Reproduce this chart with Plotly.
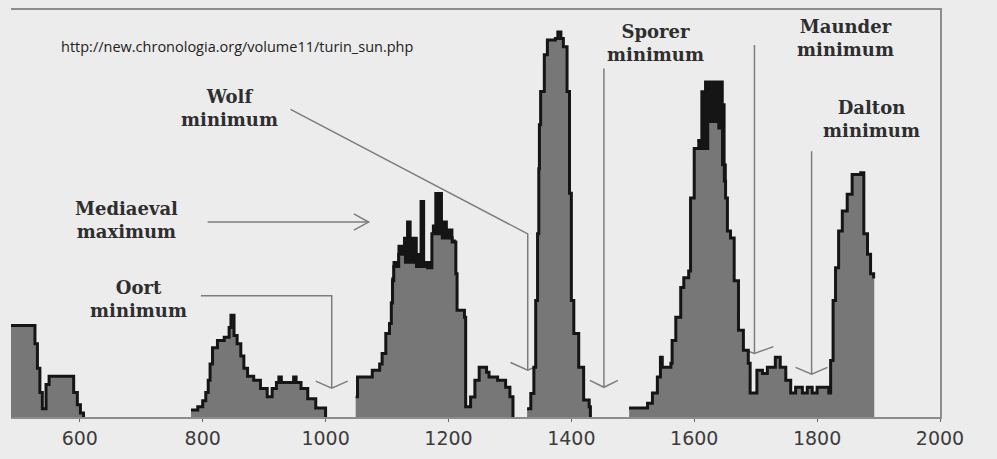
import plotly.graph_objects as go

# === DATOS (actividad solar reconstruida, unidades relativas) ===
# cada episodio de actividad por separado (entre ellos la actividad es cero)
years_500 = [488, 527, 531, 535, 539, 545, 550, 590, 596, 601, 606]
act_500 = [22.5, 18, 12, 6, 2, 8, 10, 6, 3, 1, 0]

years_800 = [781, 792, 800, 805, 809, 812, 816, 824, 835, 843, 846, 851, 856, 862, 867, 873,
             883, 894, 905, 913, 920, 924, 928, 944, 948, 952, 960, 971, 984, 1000]
act_800 = [1.7, 2.5, 4, 6, 9, 13, 17, 18.8, 19.6, 22, 25, 20, 18, 15, 12, 10,
           9, 7, 5, 7, 8.5, 9.8, 8.5, 8.5, 9.8, 8.5, 7, 4.5, 2.2, 0]

years_1100 = [1049, 1052, 1076, 1088, 1092, 1098, 1104, 1107, 1109, 1111, 1119, 1130, 1148,
              1166, 1173, 1190, 1206, 1212, 1214, 1226, 1228, 1236, 1243, 1250, 1262, 1266,
              1280, 1293, 1300, 1305]
act_1100 = [5, 9.8, 11.5, 13, 15.6, 20.5, 23, 28, 33.5, 37, 40, 38, 37,
            36.7, 45, 44, 43, 35.2, 26.2, 24.5, 2.5, 4.9, 9, 12.2, 11, 9.8,
            9, 7.3, 5, 0]

years_1350 = [1328, 1334, 1339, 1342, 1345, 1347, 1348, 1350, 1356, 1361, 1374, 1378, 1383,
              1387, 1393, 1397, 1400, 1404, 1412, 1420, 1429, 1431]
act_1350 = [2, 5.8, 12.2, 28.6, 45, 61, 71.8, 80, 89, 92.6, 93, 94.6, 93,
            91, 80, 55, 28.6, 20.5, 12.2, 4.2, 2.5, 0]

years_1600 = [1494, 1524, 1532, 1540, 1545, 1548, 1562, 1564, 1570, 1578, 1583, 1591, 1594,
              1600, 1622, 1640, 1646, 1649, 1651, 1654, 1659, 1665, 1672, 1680, 1688, 1691,
              1702, 1711, 1719, 1732, 1740, 1749, 1757, 1765, 1776, 1784, 1792, 1800, 1819,
              1822, 1826, 1830, 1835, 1841, 1849, 1857, 1871, 1876, 1882, 1887, 1892, 1893]
act_1600 = [2.2, 3.4, 5.9, 9.8, 14.7, 12.2, 13.2, 18.8, 24.5, 31.8, 34.2, 35.9, 53.8,
            66, 72.6, 71, 62, 58, 53.8, 45.7, 44, 33.5, 21.3, 16.4, 13.2, 5.9,
            11.5, 10.7, 12.2, 14.7, 12.2, 9, 5.9, 7.3, 5.9, 7.3, 5.9, 7.3, 5.9,
            13.9, 28.6, 36.7, 45.7, 50.6, 54.7, 59.6, 60, 45, 40, 35.2, 34, 0]

# envolvente superior (picos negros por encima del relleno gris)
upper_years_1150 = [1105, 1107, 1109, 1111, 1119, 1128, 1133, 1138, 1148, 1155, 1160, 1170,
                    1175, 1179, 1189, 1197, 1206, 1210]
upper_act_1150 = [23, 28, 34, 38, 42, 44, 48, 44, 40, 53, 38, 37,
                  47, 55, 48, 46, 43.3, 0]
upper_years_1620 = [1605, 1612, 1618, 1640, 1646, 1649, 1651]
upper_act_1620 = [68, 80, 82.4, 82.4, 76.8, 62, 0]

tick_years = [600, 800, 1000, 1200, 1400, 1600, 1800, 2000]
source_url = "http://new.chronologia.org/volume11/turin_sun.php"
minima_labels = ["Wolf<br>minimum", "Mediaeval<br>maximum", "Oort<br>minimum",
                 "Sporer<br>minimum", "Maunder<br>minimum", "Dalton<br>minimum"]

BG = '#ececec'
FILL = '#777777'
INK = '#151515'
ARROW = '#7d7d7d'

episodes = [(years_500, act_500), (years_800, act_800), (years_1100, act_1100),
            (years_1350, act_1350), (years_1600, act_1600)]
uppers = [(upper_years_1150, upper_act_1150), (upper_years_1620, upper_act_1620)]

fig = go.Figure()

# picos negros debajo del relleno gris
for xs, ys in uppers:
    fig.add_trace(go.Scatter(
        x=xs, y=ys, mode='lines', line_shape='hv',
        line=dict(color=INK, width=2.5), fill='tozeroy', fillcolor=INK,
        hoverinfo='skip', showlegend=False))

for i, (xs, ys) in enumerate(episodes):
    fig.add_trace(go.Scatter(
        x=xs, y=ys, mode='lines', line_shape='hv',
        line=dict(width=0, color=FILL), fill='tozeroy', fillcolor=FILL,
        hoverinfo='skip', showlegend=False))
    # el ultimo episodio termina sin trazo negro en el borde derecho
    if i == len(episodes) - 1:
        xs, ys = xs[:-1], ys[:-1]
    fig.add_trace(go.Scatter(
        x=xs, y=ys, mode='lines', line_shape='hv',
        line=dict(color=INK, width=3), hoverinfo='skip', showlegend=False))

# === FLECHAS (lineas grises con punta abierta) ===
arrow_paths = [
    "M943,75.6 L1329,45 L1329,11.5",          # Wolf
    "M1301,13.4 L1329,11.5 L1357,13.4",
    "M1453,85.6 L1453,7.3",                   # Sporer
    "M1430,9.0 L1453,7.3 L1476,9.0",
    "M1698,91.4 L1698,15.6",                  # Maunder
    "M1667,17.3 L1698,15.6 L1729,17.3",
    "M1791,65.3 L1791,10.5",                  # Dalton
    "M1765,12.2 L1791,10.5 L1817,12.2",
    "M797,29.8 L1010,29.8 L1010,7.1",         # Oort
    "M984,8.8 L1010,7.1 L1036,8.8",
    "M808,47.9 L1070,47.9",                   # Mediaeval
    "M1046,49.9 L1070,47.9 L1046,45.9",
]
shapes = [dict(type='path', path=p, xref='x', yref='y', layer='below',
               line=dict(color=ARROW, width=1.5)) for p in arrow_paths]

label_font = dict(family='DejaVu Serif', size=18, color='#2e2e2e', weight='bold')
label_pos = [(844, 75.8), (676, 48.4), (696, 28.9), (1537, 91.9), (1846, 93.2), (1889, 73.1)]
annotations = [dict(x=x, y=y, text=t, showarrow=False, xanchor='center', yanchor='middle',
                    font=label_font) for t, (x, y) in zip(minima_labels, label_pos)]
annotations.append(dict(x=566, y=91, text=source_url, showarrow=False, xanchor='left',
                        yanchor='middle', font=dict(family='Open Sans', size=14.5, color='#222')))

fig.update_layout(
    width=997, height=459,
    margin=dict(l=11, r=57, t=8, b=42),
    paper_bgcolor=BG, plot_bgcolor=BG,
    shapes=shapes, annotations=annotations,
    xaxis=dict(range=[488, 2000], tickvals=tick_years, ticks='outside', ticklen=3,
               tickcolor='#666', showline=True, mirror=True, linecolor='#8c8c8c',
               linewidth=1.5, showgrid=False, zeroline=False,
               tickfont=dict(family='DejaVu Sans', size=19, color='#3c3c3c')),
    yaxis=dict(range=[0, 100], side='right', showline=True, linecolor='#8c8c8c',
               linewidth=1.5, showticklabels=False, ticks='', showgrid=False,
               zeroline=False),
)

fig.write_html("out.html", config={'displayModeBar': False},
               post_script="document.body.style.margin='0';")
